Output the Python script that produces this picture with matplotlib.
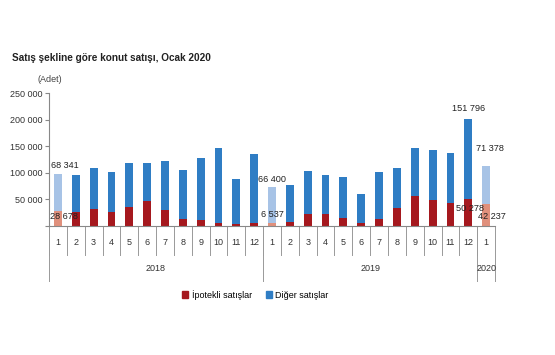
import matplotlib
matplotlib.use("Agg")
import matplotlib.pyplot as plt
import matplotlib.transforms as mtransforms
from matplotlib.patches import Patch

plt.rcParams["font.family"] = ["Liberation Sans", "DejaVu Sans"]

months = ["1", "2", "3", "4", "5", "6", "7", "8", "9", "10", "11", "12",
          "1", "2", "3", "4", "5", "6", "7", "8", "9", "10", "11", "12", "1"]
years = ["2018", "2019", "2020"]
year_lengths = [12, 12, 1]

ipotekli = [28678, 26900, 32000, 26900, 35700, 46400, 30000, 13000, 11300, 6300, 4500, 6000,
            6537, 8100, 22000, 22000, 14400, 5600, 12500, 33200, 57000, 49500, 43200, 50278,
            42237]
toplam = [97019, 95300, 108500, 102000, 118400, 118400, 122800, 105000, 127000, 146000, 89000, 136000,
          72937, 77000, 103400, 95300, 92000, 60800, 102000, 109700, 146600, 142300, 137000, 202074,
          113615]
diger = [t - i for t, i in zip(toplam, ipotekli)]

highlight = [0, 12, 24]  # January bars drawn in light colours

red, blue = "#A5181E", "#2F7DC4"
light_red, light_blue = "#E0907C", "#A7C3E6"

fig = plt.figure(figsize=(5.55, 3.55), dpi=100)
ax = fig.add_axes([0.0883, 0.3634, 0.8037, 0.3746])

x = list(range(len(months)))
red_cols = [light_red if i in highlight else red for i in x]
blue_cols = [light_blue if i in highlight else blue for i in x]
ax.bar(x, ipotekli, width=0.44, color=red_cols)
ax.bar(x, diger, width=0.44, bottom=ipotekli, color=blue_cols)

ax.set_xlim(-0.5, len(months) - 0.5)
ax.set_ylim(0, 250000)
ax.set_yticks(range(0, 250001, 50000))
ax.set_yticklabels([""] + [f"{v:,}".replace(",", " ") for v in range(50000, 250001, 50000)],
                   fontsize=6.5, color="#333333")
ax.tick_params(axis="y", length=3, color="#888888", pad=2)
ax.set_xticks([])
for s in ["top", "right"]:
    ax.spines[s].set_visible(False)
ax.spines["left"].set_color("#888888")
ax.spines["bottom"].set_color("#888888")
ax.spines["left"].set_linewidth(0.8)
ax.spines["bottom"].set_linewidth(0.8)

# multi-level category axis
trans = mtransforms.blended_transform_factory(ax.transData, ax.transAxes)
for i, m in enumerate(months):
    ax.text(i, -0.124, m, transform=trans, ha="center", va="center", fontsize=6.5, color="#333333")
    ax.plot([i - 0.5, i - 0.5], [0, -0.218], transform=trans, color="#999999", lw=0.7, clip_on=False)
start = 0
for y, n in zip(years, year_lengths):
    ax.plot([start - 0.5, start - 0.5], [0, -0.414], transform=trans, color="#999999", lw=0.7, clip_on=False)
    ax.text(start - 0.5 + n / 2, -0.323, y, transform=trans, ha="center", va="center",
            fontsize=6.5, color="#333333")
    start += n
ax.plot([start - 0.5, start - 0.5], [0, -0.414], transform=trans, color="#999999", lw=0.7, clip_on=False)

# data labels
def fmt(v):
    return f"{v:,}".replace(",", " ")

lab = dict(fontsize=6.6, color="#222222", ha="center", va="center")
ax.text(0.4, 113000, fmt(diger[0]), **lab)
ax.text(0.35, 17000, fmt(ipotekli[0]), **lab)
ax.text(12, 86500, fmt(diger[12]), **lab)
ax.text(12, 21000, fmt(ipotekli[12]), **lab)
ax.text(23, 220000, fmt(diger[23]), **lab)
ax.text(23.1, 32500, fmt(ipotekli[23]), **lab)
ax.text(24.2, 146600, fmt(diger[24]), **lab)
ax.text(24.35, 17000, fmt(ipotekli[24]), **lab)

fig.text(0.022, 0.838, "Satış şekline göre konut satışı, Ocak 2020", fontsize=7.2,
         fontweight="bold", color="#222222", ha="left", va="center")
fig.text(0.068, 0.775, "(Adet)", fontsize=6.5, color="#444444", ha="left", va="center")

handles = [Patch(color=red, label="İpotekli satışlar"), Patch(color=blue, label="Diğer satışlar")]
fig.legend(handles=handles, loc="center", bbox_to_anchor=(0.46, 0.17), ncol=2, frameon=False,
           fontsize=6.5, handlelength=0.7, handleheight=0.7, handletextpad=0.4, columnspacing=1.5)

fig.savefig("out.png", dpi=100, facecolor="white")
